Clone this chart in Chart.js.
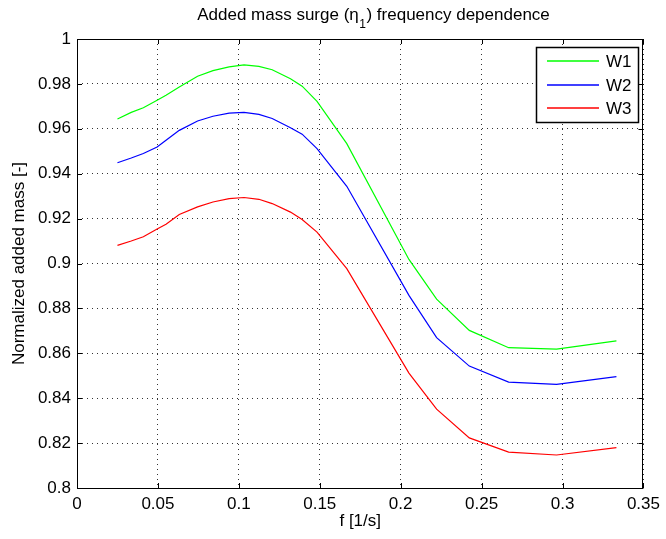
<!DOCTYPE html>
<html>
<head>
<meta charset="utf-8">
<script src="https://cdn.jsdelivr.net/npm/chart.js@4/dist/chart.umd.min.js"></script>
<style>
  html, body { margin: 0; padding: 0; background: #ffffff; }
  #c { display: block; }
</style>
</head>
<body>
<canvas id="c" width="666" height="539"></canvas>
<script>
// ---- data ----
const freq = [0.025, 0.0335, 0.041, 0.0495, 0.055, 0.0632, 0.0745, 0.084, 0.094, 0.1032, 0.1124,
              0.1206, 0.1319, 0.1391, 0.1483, 0.1667, 0.2051, 0.2222, 0.2424, 0.2667, 0.2963, 0.3333];
const w1 = [0.9644, 0.9673, 0.9694, 0.9727, 0.9749, 0.9786, 0.9834, 0.9859, 0.9876, 0.9885, 0.9878,
            0.9863, 0.9823, 0.9790, 0.9722, 0.9534, 0.9018, 0.8841, 0.8702, 0.8625, 0.8619, 0.8655];
const w2 = [0.9449, 0.9470, 0.9490, 0.9519, 0.9549, 0.9593, 0.9635, 0.9656, 0.9670, 0.9673, 0.9664,
            0.9646, 0.9605, 0.9576, 0.9512, 0.9344, 0.8858, 0.8670, 0.8543, 0.8472, 0.8462, 0.8496];
const w3 = [0.9081, 0.9100, 0.9119, 0.9154, 0.9175, 0.9218, 0.9252, 0.9274, 0.9289, 0.9294, 0.9286,
            0.9267, 0.9229, 0.9196, 0.9140, 0.8977, 0.8512, 0.8351, 0.8223, 0.8160, 0.8147, 0.8180];
const seriesNames = ['W1', 'W2', 'W3'];
const seriesColors = ['#00ff00', '#0000ff', '#ff0000'];
const xTicks = [0, 0.05, 0.1, 0.15, 0.2, 0.25, 0.3, 0.35];
const yTicks = [0.8, 0.82, 0.84, 0.86, 0.88, 0.9, 0.92, 0.94, 0.96, 0.98, 1];
const titleMain = 'Added mass surge (\u03b7';
const titleSub = '1';
const titleEnd = ') frequency dependence';
const xLabel = 'f [1/s]';
const yLabel = 'Normalized added mass [-]';

const FONT = "'Liberation Sans', Arial, Helvetica, sans-serif";

function toPoints(ys) { return freq.map((f, i) => ({ x: f, y: ys[i] })); }
const datasets = [w1, w2, w3].map((ys, i) => ({
  label: seriesNames[i],
  data: toPoints(ys),
  borderColor: seriesColors[i],
  backgroundColor: seriesColors[i],
  borderWidth: 1.2,
  pointRadius: 0,
  tension: 0,
  fill: false
}));

const matlabPlugin = {
  id: 'matlab',
  afterDatasetsDraw(chart) {
    const ctx = chart.ctx;
    const a = chart.chartArea;
    const xs = chart.scales.x, ys = chart.scales.y;
    ctx.save();
    ctx.setLineDash([]);
    // box
    ctx.strokeStyle = '#000';
    ctx.lineWidth = 1;
    ctx.strokeRect(Math.round(a.left) + 0.5, Math.round(a.top) + 0.5,
                   Math.round(a.right - a.left) - 1, Math.round(a.bottom - a.top));
    // inward ticks
    ctx.beginPath();
    xs.ticks.forEach(t => {
      const px = Math.round(xs.getPixelForValue(t.value)) + 0.5;
      ctx.moveTo(px, a.bottom); ctx.lineTo(px, a.bottom - 5);
      ctx.moveTo(px, a.top); ctx.lineTo(px, a.top + 5);
    });
    ys.ticks.forEach(t => {
      const py = Math.round(ys.getPixelForValue(t.value)) + 0.5;
      ctx.moveTo(a.left, py); ctx.lineTo(a.left + 5, py);
      ctx.moveTo(a.right, py); ctx.lineTo(a.right - 5, py);
    });
    ctx.stroke();

    // legend
    const lx = 536.5, ly = 47.5, lw = 102, lh = 75;
    ctx.fillStyle = '#fff';
    ctx.fillRect(lx, ly, lw, lh);
    ctx.lineWidth = 1.5;
    ctx.strokeStyle = '#000';
    ctx.strokeRect(lx, ly, lw, lh);
    ctx.font = '17px ' + FONT;
    ctx.textBaseline = 'middle';
    ctx.textAlign = 'left';
    chart.data.datasets.forEach((ds, i) => {
      const y = 61 + Math.round(i * 23.5);
      ctx.strokeStyle = seriesColors[i];
      ctx.lineWidth = 1.6;
      ctx.beginPath();
      ctx.moveTo(547, y); ctx.lineTo(599, y);
      ctx.stroke();
      ctx.fillStyle = '#000';
      ctx.fillText(ds.label, 606, y + 1.5);
    });

    // title with subscript
    ctx.fillStyle = '#000';
    ctx.textBaseline = 'alphabetic';
    ctx.font = '17px ' + FONT;
    const w1t = ctx.measureText(titleMain).width;
    const w3t = ctx.measureText(titleEnd).width;
    ctx.font = '12px ' + FONT;
    const w2t = ctx.measureText(titleSub).width;
    const total = w1t + w2t + w3t;
    let x0 = 373 - total / 2;
    ctx.font = '17px ' + FONT;
    ctx.fillText(titleMain, x0, 20);
    ctx.font = '12px ' + FONT;
    ctx.fillText(titleSub, x0 + w1t + 0.5, 28);
    ctx.font = '17px ' + FONT;
    ctx.fillText(titleEnd, x0 + w1t + w2t + 1, 20);
    ctx.restore();
  }
};

const gridCommon = {
  color: 'rgba(0,0,0,0.8)',
  lineWidth: 1,
  drawTicks: false
};
const borderCommon = { display: false, dash: [1, 4], dashOffset: 0 };

new Chart(document.getElementById('c'), {
  type: 'line',
  data: { datasets },
  options: {
    responsive: false,
    animation: false,
    devicePixelRatio: 1,
    layout: { padding: { top: 39, right: 20, left: 0, bottom: 0 } },
    plugins: {
      legend: { display: false },
      title: { display: false },
      tooltip: { enabled: false }
    },
    scales: {
      x: {
        type: 'linear',
        min: 0, max: 0.35,
        afterBuildTicks(scale) { scale.ticks = xTicks.map(v => ({ value: v })); },
        afterFit(scale) { scale.height = 51; },
        grid: Object.assign({}, gridCommon),
        border: Object.assign({}, borderCommon),
        ticks: {
          color: '#000',
          font: { family: FONT, size: 17 },
          padding: 6,
          maxRotation: 0,
          autoSkip: false,
          callback: v => String(Number(v.toFixed(2)))
        },
        title: {
          display: true,
          text: xLabel,
          color: '#000',
          font: { family: FONT, size: 17 },
          padding: { top: 0, bottom: 7 }
        }
      },
      y: {
        type: 'linear',
        min: 0.8, max: 1,
        afterBuildTicks(scale) { scale.ticks = yTicks.map(v => ({ value: v })); },
        afterFit(scale) { scale.width = 77; },
        grid: Object.assign({}, gridCommon),
        border: Object.assign({}, borderCommon),
        ticks: {
          color: '#000',
          font: { family: FONT, size: 17 },
          padding: 6,
          autoSkip: false,
          callback: v => String(Number(v.toFixed(2)))
        },
        title: {
          display: true,
          text: yLabel,
          color: '#000',
          font: { family: FONT, size: 17 },
          padding: { top: 9, bottom: 0 }
        }
      }
    }
  },
  plugins: [matlabPlugin]
});
</script>
</body>
</html>
